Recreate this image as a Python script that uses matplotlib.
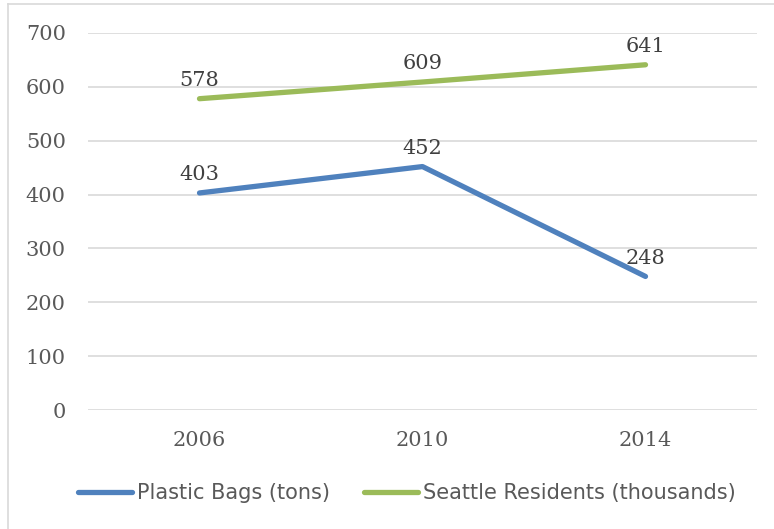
import matplotlib.pyplot as plt
from matplotlib.lines import Line2D

years = ['2006', '2010', '2014']
plastic_bags = [403, 452, 248]
residents = [578, 609, 641]
series_names = ['Plastic Bags (tons)', 'Seattle Residents (thousands)']
y_ticks = [0, 100, 200, 300, 400, 500, 600, 700]

blue = '#4F81BD'
green = '#9BBB59'
grid_col = '#D9D9D9'
text_col = '#595959'

fig = plt.figure(figsize=(7.74, 5.29), dpi=100)
ax = fig.add_axes([88 / 774, 1 - 410 / 529, (757 - 88) / 774, (410 - 33) / 529])

x = list(range(len(years)))
ax.plot(x, plastic_bags, color=blue, lw=3.8, solid_capstyle='round', zorder=3)
ax.plot(x, residents, color=green, lw=3.8, solid_capstyle='round', zorder=3)

# data labels above each point
for vals in (plastic_bags, residents):
    for xi, v in zip(x, vals):
        ax.annotate(str(v), (xi, v), xytext=(0, 13), textcoords='offset points',
                    ha='center', va='center', fontsize=15, family='DejaVu Serif',
                    color='#404040')

ax.set_xlim(-0.5, 2.5)
ax.set_ylim(0, 700)
ax.set_yticks(y_ticks)
ax.set_xticks(x)
ax.set_xticklabels(years)
ax.grid(axis='y', color=grid_col, lw=1.2)
ax.set_axisbelow(True)
for s in ax.spines.values():
    s.set_visible(False)
ax.tick_params(length=0, labelsize=15, labelcolor=text_col)
ax.tick_params(axis='y', pad=16)
ax.tick_params(axis='x', pad=15)
for lab in ax.get_xticklabels() + ax.get_yticklabels():
    lab.set_family('DejaVu Serif')

handles = [Line2D([], [], color=blue, lw=3.8, solid_capstyle='round'),
           Line2D([], [], color=green, lw=3.8, solid_capstyle='round')]
fig.legend(handles, series_names, loc='center', bbox_to_anchor=(0.5 + 20 / 774, 1 - 493 / 529),
           ncol=2, frameon=False, handlelength=2.6, handletextpad=0.25, columnspacing=1.6,
           prop={'family': 'DejaVu Sans', 'size': 15},
           labelcolor=text_col)

# chart border (left and top edges visible)
fig.add_artist(Line2D([8 / 774, 8 / 774], [0, 1 - 4 / 529], color=grid_col, lw=1.2))
fig.add_artist(Line2D([8 / 774, 1], [1 - 4 / 529, 1 - 4 / 529], color=grid_col, lw=1.2))

fig.savefig('out.png', dpi=100)
